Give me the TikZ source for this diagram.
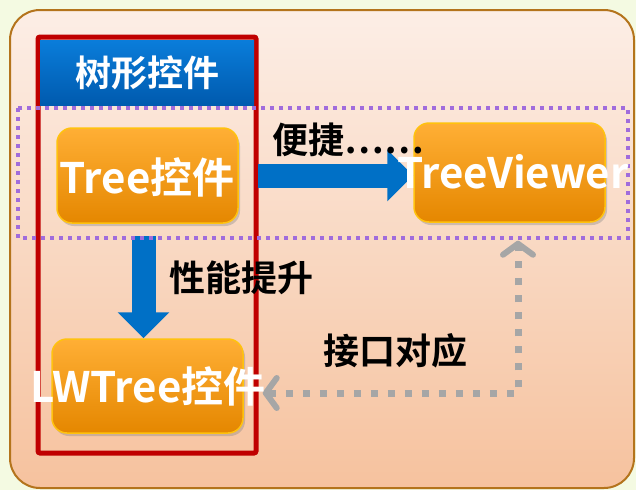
\documentclass[tikz,border=0pt]{standalone}
\usepackage{fontspec}
\setmainfont{Noto Sans CJK SC}[BoldFont={Noto Sans CJK SC Bold}]
\usetikzlibrary{arrows.meta,calc,shadows}
\definecolor{bgc}{HTML}{F4FAE2}
\definecolor{outerTop}{HTML}{FCEEE6}
\definecolor{outerBot}{HTML}{F6C29E}
\definecolor{outerLine}{HTML}{B4741C}
\definecolor{redf}{HTML}{C00000}
\definecolor{blueTop}{HTML}{0A7DDA}
\definecolor{blueBot}{HTML}{005AAE}
\definecolor{arrowBlue}{HTML}{0070C6}
\definecolor{orTop}{HTML}{FFAF35}
\definecolor{orBot}{HTML}{E58700}
\definecolor{orLine}{HTML}{FFC20E}
\definecolor{purp}{HTML}{A06CDC}
\definecolor{grayc}{HTML}{A6A6A6}
\tikzset{
  orbox/.style={rounded corners=15pt, top color=orTop, bottom color=orBot, draw=orLine, line width=1.5pt,
    drop shadow={opacity=0.35, shadow xshift=2pt, shadow yshift=-3pt}},
  wtext/.style={text=white, font=\fontsize{42}{42}\selectfont\bfseries, inner sep=0pt},
  btext/.style={text=black, font=\fontsize{36}{36}\selectfont\bfseries, inner sep=0pt},
  bigblue/.style={draw=arrowBlue, line width=24pt, -{Triangle[width=50pt,length=26pt]}},
  graybarb/.tip={Straight Barb[length=11pt,width=30pt,line width=6pt,round]},
  graylink/.style={draw=grayc, line width=7pt, dash pattern=on 7pt off 10pt, graybarb-graybarb},
}
\begin{document}
\begin{tikzpicture}[x=1pt,y=-1pt]
\useasboundingbox (0,0) rectangle (636,490);
\fill[bgc] (0,0) rectangle (636,490);
% outer panel
\draw[outerLine, line width=2pt, rounded corners=30pt, top color=outerTop, bottom color=outerBot] (10,10) rectangle (634,488);
% red frame
\draw[redf, line width=5pt, rounded corners=2pt] (38,37) rectangle (256,453);
% header
\node[draw=none, top color=blueTop, bottom color=blueBot, minimum width=214pt, minimum height=65pt, inner sep=0pt,
  text=white, font=\fontsize{36}{36}\selectfont\bfseries] (hdr) at (147,72.5) {树形控件};
% nodes (boxes)
\node[orbox, minimum width=181pt, minimum height=95pt] (tree) at (147.5,175.5) {};
\node[orbox, minimum width=191pt, minimum height=99pt] (tv) at (509.5,172.5) {};
\node[orbox, minimum width=191pt, minimum height=94pt] (lw) at (147.5,386) {};
% arrows
\draw[bigblue] ([xshift=19pt]tree.east) -- (tree.east -| tv.west);
\draw[bigblue] ([xshift=-4pt,yshift=-12pt]tree.south) -- ([xshift=-4pt]lw.north);
\coordinate (corner) at (518,393);
\draw[graylink] ($(lw.east)+(19,7)$) -- (corner) -- ($(corner |- tv.south)+(0,18)$);
% purple dotted band
\draw[purp, line width=4pt, dash pattern=on 4pt off 5pt] (18,108) rectangle (628,238);
% texts
\node[wtext] (treet) at (147,177) {Tree控件};
\node[wtext] (tvt) at (513,172) {TreeViewer};
\node[wtext] (lwt) at (148,386) {LWTree控件};
\node[btext] (l1) at (348,140) {便捷……};
\node[btext] (l2) at (241,278) {性能提升};
\node[btext] (l3) at (395,351) {接口对应};
\end{tikzpicture}
\end{document}
